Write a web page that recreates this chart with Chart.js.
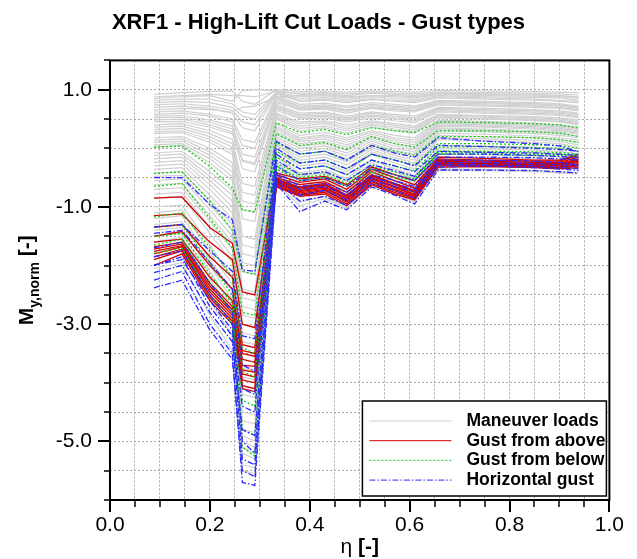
<!DOCTYPE html>
<html>
<head>
<meta charset="utf-8">
<script src="https://cdn.jsdelivr.net/npm/chart.js@4.4.1/dist/chart.umd.min.js"></script>
<style>
  html, body { margin: 0; padding: 0; background: #fff; }
</style>
</head>
<body>
<canvas id="loadsChart" width="637" height="559"></canvas>
<script>
// spanwise stations (eta)
const eta = [0.088, 0.144, 0.20, 0.245, 0.265, 0.29, 0.333, 0.38, 0.43, 0.474, 0.524, 0.57, 0.61, 0.657, 0.75, 0.85, 0.90, 0.938];

const xTickLabels = ["0.0", "0.2", "0.4", "0.6", "0.8", "1.0"];
const yTickLabels = ["1.0", "-1.0", "-3.0", "-5.0"];

// Maneuver loads (grey)
const maneuverLoads = [
  [0.92, 0.95, 0.97, 0.98, 0.8, 0.75, 1.0, 0.97, 0.98, 0.96, 0.98, 0.97, 0.96, 0.99, 0.98, 0.97, 0.96, 0.95],
  [0.88, 0.9, 0.92, 0.9, 0.9, 0.88, 0.97, 0.94, 0.95, 0.93, 0.95, 0.94, 0.93, 0.96, 0.95, 0.94, 0.93, 0.91],
  [0.85, 0.88, 0.9, 0.8, 0.98, 1.0, 0.98, 0.92, 0.93, 0.9, 0.94, 0.92, 0.9, 0.95, 0.93, 0.92, 0.9, 0.88],
  [0.82, 0.84, 0.84, 0.76, 0.62, 0.58, 0.96, 0.88, 0.9, 0.86, 0.9, 0.88, 0.86, 0.92, 0.9, 0.89, 0.88, 0.85],
  [0.78, 0.8, 0.78, 0.7, 0.55, 0.5, 0.95, 0.85, 0.87, 0.83, 0.88, 0.85, 0.83, 0.9, 0.88, 0.87, 0.86, 0.82],
  [0.74, 0.76, 0.72, 0.65, 0.45, 0.4, 0.94, 0.82, 0.84, 0.8, 0.85, 0.82, 0.8, 0.88, 0.86, 0.84, 0.82, 0.8],
  [0.7, 0.72, 0.68, 0.6, 0.35, 0.3, 0.93, 0.8, 0.82, 0.78, 0.83, 0.8, 0.78, 0.86, 0.84, 0.82, 0.8, 0.78],
  [0.65, 0.68, 0.66, 0.62, 0.7, 0.72, 0.88, 0.9, 0.92, 0.88, 0.9, 0.9, 0.88, 0.93, 0.92, 0.91, 0.9, 0.87],
  [0.62, 0.64, 0.58, 0.5, 0.15, 0.1, 0.9, 0.75, 0.77, 0.72, 0.78, 0.75, 0.72, 0.82, 0.8, 0.78, 0.76, 0.72],
  [0.58, 0.6, 0.55, 0.45, 0.05, 0.0, 0.87, 0.72, 0.74, 0.7, 0.75, 0.72, 0.7, 0.8, 0.78, 0.76, 0.74, 0.7],
  [0.55, 0.56, 0.48, 0.38, -0.1, -0.15, 0.85, 0.7, 0.72, 0.66, 0.73, 0.7, 0.67, 0.78, 0.76, 0.74, 0.72, 0.68],
  [0.52, 0.53, 0.44, 0.33, -0.22, -0.28, 0.83, 0.67, 0.69, 0.63, 0.7, 0.67, 0.64, 0.76, 0.74, 0.72, 0.7, 0.66],
  [0.48, 0.5, 0.4, 0.28, -0.35, -0.4, 0.8, 0.65, 0.67, 0.6, 0.68, 0.64, 0.62, 0.74, 0.72, 0.7, 0.68, 0.64],
  [0.45, 0.46, 0.36, 0.25, -0.2, -0.25, 0.78, 0.68, 0.7, 0.65, 0.7, 0.67, 0.64, 0.8, 0.78, 0.76, 0.74, 0.7],
  [0.4, 0.42, 0.3, 0.15, -0.6, -0.65, 0.75, 0.6, 0.62, 0.55, 0.62, 0.58, 0.55, 0.7, 0.68, 0.66, 0.64, 0.6],
  [0.36, 0.38, 0.25, 0.08, -0.75, -0.8, 0.72, 0.57, 0.6, 0.52, 0.6, 0.55, 0.52, 0.68, 0.66, 0.64, 0.62, 0.58],
  [0.32, 0.34, 0.2, 0.02, -0.9, -0.95, 0.7, 0.55, 0.57, 0.5, 0.57, 0.52, 0.5, 0.66, 0.64, 0.62, 0.6, 0.56],
  [0.28, 0.3, 0.15, -0.05, -1.05, -1.1, 0.68, 0.52, 0.55, 0.48, 0.55, 0.5, 0.47, 0.64, 0.62, 0.6, 0.58, 0.54],
  [0.25, 0.27, 0.1, -0.1, -1.2, -1.25, 0.65, 0.5, 0.52, 0.45, 0.52, 0.47, 0.44, 0.62, 0.6, 0.58, 0.56, 0.52],
  [0.18, 0.2, 0.0, -0.25, -1.5, -1.55, 0.6, 0.45, 0.47, 0.4, 0.47, 0.42, 0.38, 0.58, 0.56, 0.54, 0.52, 0.48],
  [0.14, 0.16, -0.06, -0.32, -1.65, -1.7, 0.58, 0.42, 0.45, 0.36, 0.45, 0.39, 0.35, 0.57, 0.55, 0.52, 0.5, 0.46],
  [0.1, 0.12, -0.12, -0.4, -1.8, -1.85, 0.55, 0.38, 0.42, 0.33, 0.42, 0.36, 0.32, 0.55, 0.53, 0.5, 0.48, 0.44],
  [0.06, 0.08, -0.18, -0.48, -1.95, -2.0, 0.52, 0.34, 0.38, 0.3, 0.39, 0.33, 0.29, 0.53, 0.51, 0.48, 0.46, 0.42],
  [0.02, 0.05, -0.25, -0.55, -2.1, -2.15, 0.5, 0.3, 0.35, 0.26, 0.36, 0.3, 0.26, 0.52, 0.5, 0.47, 0.45, 0.4],
  [-0.08, -0.05, -0.4, -0.72, -2.4, -2.45, 0.42, 0.22, 0.27, 0.18, 0.3, 0.22, 0.18, 0.48, 0.46, 0.43, 0.4, 0.36],
  [-0.12, -0.1, -0.48, -0.8, -2.55, -2.6, 0.38, 0.18, 0.23, 0.14, 0.27, 0.18, 0.14, 0.46, 0.44, 0.41, 0.38, 0.34],
  [-0.18, -0.15, -0.55, -0.9, -2.7, -2.75, 0.35, 0.15, 0.2, 0.1, 0.24, 0.15, 0.1, 0.44, 0.42, 0.39, 0.36, 0.32],
  [-0.24, -0.21, -0.62, -1.0, -2.85, -2.9, 0.32, 0.12, 0.16, 0.06, 0.21, 0.12, 0.06, 0.42, 0.4, 0.37, 0.34, 0.3],
  [-0.3, -0.27, -0.7, -1.1, -3.0, -3.05, 0.28, 0.08, 0.12, 0.02, 0.18, 0.08, 0.02, 0.4, 0.38, 0.35, 0.32, 0.28],
  [-0.36, -0.33, -0.8, -1.2, -3.15, -3.2, 0.24, 0.04, 0.08, -0.03, 0.15, 0.04, -0.02, 0.38, 0.36, 0.33, 0.3, 0.26],
  [-0.42, -0.4, -0.88, -1.3, -3.3, -3.35, 0.2, 0.0, 0.04, -0.08, 0.12, 0.0, -0.06, 0.35, 0.33, 0.3, 0.28, 0.24],
  [-0.48, -0.46, -0.96, -1.4, -3.45, -3.5, 0.16, -0.05, 0.0, -0.13, 0.08, -0.04, -0.1, 0.33, 0.31, 0.28, 0.25, 0.21],
  [-0.55, -0.52, -1.05, -1.5, -3.6, -3.65, 0.12, -0.1, -0.05, -0.18, 0.05, -0.08, -0.15, 0.3, 0.28, 0.25, 0.22, 0.18],
  [-0.62, -0.6, -1.15, -1.6, -3.75, -3.8, 0.08, -0.15, -0.1, -0.23, 0.02, -0.12, -0.2, 0.26, 0.24, 0.21, 0.18, 0.14],
  [-0.7, -0.67, -1.25, -1.72, -3.9, -3.95, 0.05, -0.2, -0.15, -0.28, -0.02, -0.16, -0.25, 0.22, 0.2, 0.18, 0.15, 0.1],
  [-0.78, -0.75, -1.35, -1.85, -4.05, -4.1, 0.0, -0.25, -0.2, -0.34, -0.06, -0.2, -0.3, 0.18, 0.16, 0.14, 0.12, 0.06],
  [-0.85, -0.82, -1.45, -1.95, -4.2, -4.25, -0.05, -0.3, -0.25, -0.4, -0.1, -0.25, -0.35, 0.15, 0.13, 0.1, 0.08, 0.02],
  [-1.0, -0.97, -1.65, -2.2, -4.5, -4.55, -0.15, -0.42, -0.36, -0.52, -0.2, -0.35, -0.46, 0.05, 0.04, 0.02, 0.0, -0.05],
  [-1.1, -1.05, -1.78, -2.32, -4.65, -4.7, -0.2, -0.48, -0.42, -0.58, -0.25, -0.4, -0.52, 0.0, -0.01, -0.03, -0.05, -0.1],
  [-1.2, -1.15, -1.9, -2.45, -4.8, -4.85, -0.25, -0.55, -0.48, -0.65, -0.3, -0.45, -0.58, -0.05, -0.06, -0.08, -0.1, -0.15],
  [-1.3, -1.25, -2.0, -2.58, -4.9, -5.0, -0.3, -0.62, -0.54, -0.72, -0.36, -0.5, -0.64, -0.1, -0.11, -0.13, -0.15, -0.2],
  [-1.4, -1.35, -2.1, -2.7, -5.0, -5.1, -0.35, -0.68, -0.6, -0.78, -0.42, -0.56, -0.7, -0.15, -0.16, -0.18, -0.2, -0.25],
  [-1.5, -1.45, -2.22, -2.82, -5.1, -5.2, -0.4, -0.74, -0.66, -0.84, -0.47, -0.61, -0.75, -0.2, -0.21, -0.23, -0.25, -0.3],
  [-1.6, -1.52, -2.35, -2.95, -5.2, -5.3, -0.45, -0.8, -0.72, -0.9, -0.52, -0.66, -0.8, -0.25, -0.26, -0.28, -0.3, -0.35],
  [-1.85, -1.75, -2.6, -3.2, -5.4, -5.45, -0.55, -0.92, -0.82, -1.0, -0.62, -0.76, -0.9, -0.35, -0.36, -0.38, -0.4, -0.42],
  [-2.05, -1.95, -2.85, -3.45, -5.5, -5.55, -0.6, -0.98, -0.86, -1.02, -0.64, -0.78, -0.92, -0.38, -0.38, -0.4, -0.42, -0.44]
];

// Gust from above (red)
const gustAbove = [
  [-0.85, -0.83, -1.35, -1.62, -2.45, -2.5, -0.42, -0.52, -0.48, -0.62, -0.32, -0.45, -0.55, -0.15, -0.17, -0.2, -0.2, -0.1],
  [-1.15, -1.12, -1.6, -1.9, -3.0, -3.06, -0.45, -0.58, -0.52, -0.7, -0.36, -0.5, -0.62, -0.18, -0.2, -0.22, -0.22, -0.12],
  [-1.35, -1.3, -1.85, -2.2, -3.35, -3.4, -0.5, -0.62, -0.57, -0.75, -0.4, -0.55, -0.68, -0.2, -0.22, -0.24, -0.24, -0.15],
  [-1.5, -1.42, -2.0, -2.4, -3.5, -3.55, -0.52, -0.66, -0.6, -0.8, -0.45, -0.6, -0.72, -0.22, -0.24, -0.26, -0.26, -0.18],
  [-1.6, -1.55, -2.2, -2.6, -3.45, -3.5, -0.54, -0.68, -0.62, -0.8, -0.46, -0.6, -0.74, -0.23, -0.24, -0.26, -0.27, -0.19],
  [-1.68, -1.6, -2.3, -2.7, -3.6, -3.65, -0.55, -0.7, -0.63, -0.82, -0.48, -0.62, -0.75, -0.24, -0.25, -0.27, -0.28, -0.2],
  [-1.72, -1.63, -2.35, -2.75, -3.7, -3.72, -0.57, -0.72, -0.66, -0.85, -0.5, -0.65, -0.78, -0.25, -0.26, -0.28, -0.3, -0.22],
  [-1.76, -1.66, -2.4, -2.8, -3.78, -3.82, -0.58, -0.74, -0.68, -0.87, -0.52, -0.67, -0.8, -0.26, -0.27, -0.29, -0.3, -0.24],
  [-1.8, -1.68, -2.45, -2.85, -3.85, -3.9, -0.6, -0.76, -0.7, -0.9, -0.55, -0.7, -0.82, -0.27, -0.28, -0.3, -0.32, -0.26],
  [-1.85, -1.72, -2.5, -2.9, -3.95, -4.0, -0.62, -0.78, -0.72, -0.92, -0.57, -0.72, -0.84, -0.28, -0.29, -0.31, -0.33, -0.28],
  [-1.9, -1.75, -2.55, -2.95, -4.05, -4.1, -0.64, -0.8, -0.75, -0.95, -0.6, -0.75, -0.86, -0.3, -0.3, -0.32, -0.34, -0.3],
  [-2.0, -1.8, -2.6, -3.0, -4.1, -4.15, -0.66, -0.82, -0.78, -0.98, -0.62, -0.78, -0.88, -0.32, -0.31, -0.33, -0.35, -0.33]
];

// Gust from below (green)
const gustBelow = [
  [0.02, 0.04, -0.31, -0.68, -1.05, -1.08, 0.44, 0.27, 0.32, 0.23, 0.35, 0.3, 0.27, 0.45, 0.44, 0.42, 0.4, 0.35],
  [-0.43, -0.4, -0.9, -1.4, -2.1, -2.15, 0.25, 0.05, 0.1, -0.02, 0.2, 0.08, 0.02, 0.3, 0.3, 0.28, 0.26, 0.2],
  [-0.65, -0.6, -1.2, -1.7, -2.8, -2.85, 0.1, -0.1, -0.05, -0.2, 0.05, -0.05, -0.12, 0.2, 0.2, 0.18, 0.15, 0.1],
  [-1.17, -1.1, -1.7, -2.2, -3.4, -3.5, -0.05, -0.25, -0.2, -0.35, -0.1, -0.2, -0.28, 0.08, 0.08, 0.06, 0.05, 0.0],
  [-1.34, -1.3, -1.95, -2.5, -3.8, -3.9, -0.15, -0.35, -0.3, -0.45, -0.2, -0.3, -0.38, 0.02, 0.03, 0.01, 0.0, -0.05],
  [-1.5, -1.45, -2.15, -2.65, -5.1, -5.25, -0.35, -0.55, -0.5, -0.65, -0.4, -0.5, -0.55, -0.1, -0.1, -0.12, -0.12, -0.15],
  [-1.65, -1.55, -2.3, -2.8, -4.3, -4.4, -0.25, -0.45, -0.4, -0.55, -0.3, -0.4, -0.48, -0.05, -0.05, -0.06, -0.07, -0.1],
  [-1.79, -1.7, -2.5, -3.0, -4.8, -4.9, -0.3, -0.5, -0.45, -0.6, -0.35, -0.45, -0.52, -0.08, -0.08, -0.1, -0.1, -0.12]
];

// Horizontal gust (blue)
const gustHorizontal = [
  [-0.5, -0.5, -0.96, -1.22, -2.07, -2.1, 0.12, -0.1, -0.05, -0.2, 0.05, -0.08, -0.15, 0.18, 0.12, 0.08, 0.04, -0.06],
  [-1.34, -1.3, -1.75, -2.1, -3.2, -3.25, 0.0, -0.25, -0.2, -0.35, -0.1, -0.2, -0.3, 0.05, 0.03, 0.0, -0.02, -0.05],
  [-1.45, -1.4, -1.95, -2.4, -3.7, -3.8, -0.1, -0.35, -0.3, -0.45, -0.2, -0.3, -0.4, -0.05, -0.07, -0.08, -0.1, -0.12],
  [-1.7, -1.6, -2.3, -2.8, -4.1, -4.2, -0.2, -0.45, -0.4, -0.55, -0.28, -0.38, -0.48, -0.1, -0.1, -0.12, -0.14, -0.16],
  [-1.85, -1.75, -2.5, -3.0, -5.0, -5.2, -0.55, -0.9, -0.82, -0.97, -0.6, -0.72, -0.85, -0.32, -0.3, -0.33, -0.35, -0.38],
  [-1.99, -1.9, -2.6, -3.1, -4.4, -4.5, -0.3, -0.55, -0.5, -0.65, -0.35, -0.45, -0.55, -0.15, -0.15, -0.16, -0.18, -0.2],
  [-2.0, -1.85, -2.7, -3.2, -5.3, -5.4, -0.45, -0.7, -0.65, -0.8, -0.5, -0.6, -0.7, -0.25, -0.24, -0.26, -0.28, -0.3],
  [-2.12, -2.0, -2.8, -3.3, -4.8, -4.9, -0.4, -0.65, -0.6, -0.75, -0.45, -0.55, -0.65, -0.2, -0.2, -0.22, -0.24, -0.28],
  [-2.25, -2.1, -3.0, -3.5, -5.7, -5.75, -0.6, -1.08, -0.9, -1.05, -0.66, -0.8, -0.95, -0.37, -0.37, -0.38, -0.4, -0.42],
  [-2.38, -2.25, -3.1, -3.6, -5.5, -5.6, -0.5, -0.8, -0.72, -0.88, -0.55, -0.65, -0.75, -0.28, -0.28, -0.3, -0.32, -0.35]
];

const groups = [
  { name: "Maneuver loads", data: maneuverLoads, color: "#d0d0d0", width: 1.2, dash: [], order: 4 },
  { name: "Gust from above", data: gustAbove, color: "#d40000", width: 1.3, dash: [], order: 3 },
  { name: "Gust from below", data: gustBelow, color: "#14cc14", width: 1.3, dash: [2, 2], order: 2 },
  { name: "Horizontal gust", data: gustHorizontal, color: "#2a2aff", width: 1.3, dash: [6, 2, 1.5, 2], order: 1 }
];

const FONT = "'Liberation Sans', Arial, Helvetica, sans-serif";

const datasets = [];
groups.forEach((g) => {
  g.data.forEach((vals) => {
    datasets.push({
      label: g.name,
      data: vals.map((v, j) => ({ x: eta[j], y: v })),
      borderColor: g.color,
      borderWidth: g.width,
      borderDash: g.dash,
      pointRadius: 0,
      tension: 0,
      fill: false,
      order: g.order
    });
  });
});

function labelFor(v, list) {
  const s = Number(v).toFixed(1);
  if (Math.abs(v - Number(s)) < 1e-6 && list.includes(s)) return s;
  return "";
}

// frame, tick marks, axis titles and legend
const decorations = {
  id: "decorations",
  afterDraw(chart) {
    const ctx = chart.ctx;
    const a = chart.chartArea;
    const xs = chart.scales.x;
    const ys = chart.scales.y;
    ctx.save();
    ctx.strokeStyle = "#000";
    ctx.lineCap = "butt";

    // tick marks
    xs.ticks.forEach((t) => {
      const px = Math.round(xs.getPixelForValue(t.value));
      const major = labelFor(t.value, xTickLabels) !== "";
      ctx.lineWidth = major ? 2 : 1.5;
      ctx.beginPath();
      ctx.moveTo(px, a.bottom);
      ctx.lineTo(px, a.bottom + (major ? 12 : 7));
      ctx.stroke();
    });
    ys.ticks.forEach((t) => {
      const py = Math.round(ys.getPixelForValue(t.value));
      const major = labelFor(t.value, yTickLabels) !== "";
      ctx.lineWidth = major ? 2 : 1.5;
      ctx.beginPath();
      ctx.moveTo(a.left, py);
      ctx.lineTo(a.left - (major ? 12 : 6), py);
      ctx.stroke();
    });

    // frame
    ctx.lineWidth = 2;
    ctx.strokeRect(a.left, a.top, a.right - a.left, a.bottom - a.top);

    // x title: eta [-]
    ctx.fillStyle = "#000";
    ctx.textBaseline = "alphabetic";
    ctx.textAlign = "left";
    ctx.font = "21px " + FONT;
    const w1 = ctx.measureText("\u03b7 ").width;
    ctx.font = "bold 21px " + FONT;
    const w2 = ctx.measureText("[-]").width;
    const x0 = (a.left + a.right) / 2 - (w1 + w2) / 2;
    ctx.font = "21px " + FONT;
    ctx.fillText("\u03b7 ", x0, 553);
    ctx.font = "bold 21px " + FONT;
    ctx.fillText("[-]", x0 + w1, 553);

    // y title: M_y,norm [-]
    ctx.save();
    ctx.translate(33, (a.top + a.bottom) / 2);
    ctx.rotate(-Math.PI / 2);
    ctx.font = "bold 21px " + FONT;
    const m = ctx.measureText("M").width;
    const br = ctx.measureText(" [-]").width;
    ctx.font = "bold 14px " + FONT;
    const sub = ctx.measureText("y,norm").width;
    const y0 = -(m + sub + br) / 2;
    ctx.font = "bold 21px " + FONT;
    ctx.fillText("M", y0, 0);
    ctx.font = "bold 14px " + FONT;
    ctx.fillText("y,norm", y0 + m, 6);
    ctx.font = "bold 21px " + FONT;
    ctx.fillText(" [-]", y0 + m + sub, 0);
    ctx.restore();

    // legend
    const lw = 244, lh = 95;
    const lx = a.right - lw - 3, ly = a.bottom - lh - 4;
    ctx.fillStyle = "#fff";
    ctx.fillRect(lx, ly, lw, lh);
    ctx.lineWidth = 1.5;
    ctx.strokeStyle = "#000";
    ctx.strokeRect(lx, ly, lw, lh);
    ctx.font = "bold 17.5px " + FONT;
    ctx.textBaseline = "middle";
    groups.forEach((g, i) => {
      const yy = ly + 20 + i * 19.7;
      ctx.strokeStyle = g.color;
      ctx.lineWidth = 1;
      ctx.setLineDash(g.dash);
      ctx.beginPath();
      ctx.moveTo(lx + 7, yy);
      ctx.lineTo(lx + 89, yy);
      ctx.stroke();
      ctx.setLineDash([]);
      ctx.fillStyle = "#000";
      ctx.fillText(g.name, lx + 104, yy);
    });
    ctx.restore();
  }
};

new Chart(document.getElementById("loadsChart").getContext("2d"), {
  type: "line",
  data: { datasets: datasets },
  options: {
    responsive: false,
    animation: false,
    layout: { padding: 0 },
    plugins: {
      legend: { display: false },
      tooltip: { enabled: false },
      title: {
        display: true,
        text: "XRF1 - High-Lift Cut Loads - Gust types",
        color: "#000",
        font: { family: FONT, size: 22, weight: "bold" },
        padding: { top: 10, bottom: 24 }
      }
    },
    scales: {
      x: {
        type: "linear",
        min: 0,
        max: 1,
        afterFit: (s) => { s.height = 59; },
        ticks: {
          stepSize: 0.05,
          autoSkip: false,
          maxRotation: 0,
          minRotation: 0,
          padding: 13,
          color: "#000",
          font: { family: FONT, size: 21 },
          callback: (v) => labelFor(v, xTickLabels)
        },
        grid: { color: "#a8a8a8", lineWidth: 1, drawTicks: false },
        border: { display: false, dash: [2, 2] }
      },
      y: {
        min: -6,
        max: 1.5,
        afterFit: (s) => { s.width = 110; },
        ticks: {
          stepSize: 0.5,
          autoSkip: false,
          padding: 18,
          color: "#000",
          font: { family: FONT, size: 21 },
          callback: (v) => labelFor(v, yTickLabels)
        },
        grid: { color: "#a8a8a8", lineWidth: 1, drawTicks: false },
        border: { display: false, dash: [2, 2] }
      },
      // empty right-hand strip so the plot box ends where the original does
      yRight: {
        position: "right",
        min: -6,
        max: 1.5,
        afterFit: (s) => { s.width = 27; },
        ticks: { display: false },
        grid: { display: false, drawTicks: false },
        border: { display: false }
      }
    }
  },
  plugins: [decorations]
});
</script>
</body>
</html>
